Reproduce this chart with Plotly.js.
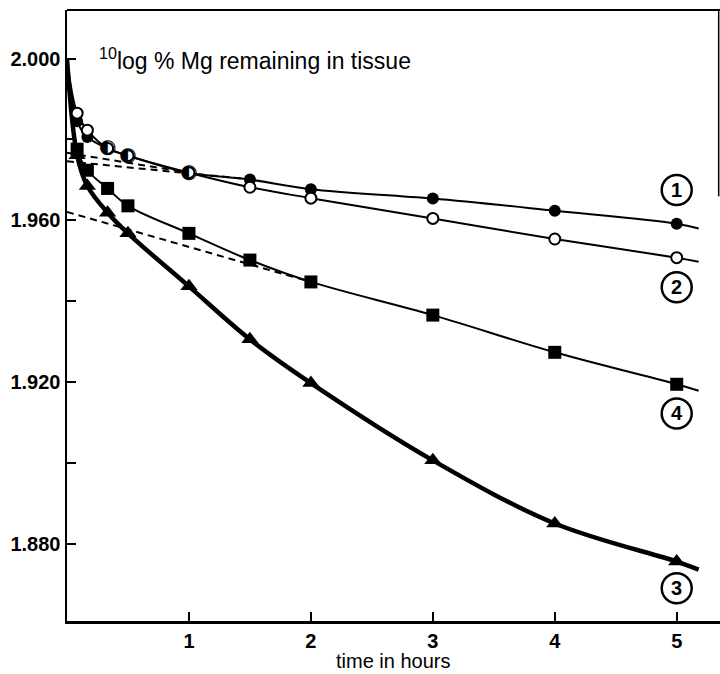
<!DOCTYPE html>
<html>
<head>
<meta charset="utf-8">
<script src="https://cdn.plot.ly/plotly-3.0.1.min.js"></script>
<style>html,body{margin:0;padding:0;background:#fff;}#chart{width:720px;height:674px;}</style>
</head>
<body>
<div id="chart"></div>
<script>
// time points (hours)
const times = [0.083, 0.167, 0.333, 0.5, 1, 1.5, 2, 3, 4, 5];
// 10log % Mg remaining in tissue
const series1 = [1.9845, 1.9806, 1.9778, 1.9760, 1.9718, 1.9701, 1.9677, 1.9654, 1.9624, 1.9592];
const series2 = [1.9865, 1.9823, 1.9778, 1.9760, 1.9718, 1.9682, 1.9655, 1.9605, 1.9554, 1.9508];
const series3 = [1.9761, 1.9685, 1.9619, 1.9568, 1.9437, 1.9306, 1.9198, 1.9007, 1.8851, 1.8757];
const series4 = [1.9776, 1.9724, 1.9679, 1.9636, 1.9568, 1.9502, 1.9448, 1.9366, 1.9274, 1.9195];
// curves start at 100 % (log = 2.000) and run a little past 5 h
const startTime = 0, startValue = 2.000;
const endTime = 5.18;
const curveEnds = {s1: 1.9580, s2: 1.9498, s3: 1.8737, s4: 1.9179};
// points where curves 1 and 2 coincide (half-filled circles)
const sharedTimes = [0.333, 0.5, 1];
const sharedValues = [1.9778, 1.9760, 1.9718];
// dashed extrapolations of the slow components
const dash1X = [0, 1.45], dash1Y = [1.9746, 1.9703];
const dash2X = [0, 1.0], dash2Y = [1.9767, 1.9718];
const dash4X = [0, 2.0], dash4Y = [1.9621, 1.9448];
// ticks
const xTickVals = [1, 2, 3, 4, 5];
const xTickLabels = ['1', '2', '3', '4', '5'];
const yTickVals = [1.88, 1.92, 1.96, 2.00];
const yTickLabels = ['1.880', '1.920', '1.960', '2.000'];
const yMinorTickVals = [1.90, 1.94, 1.98];
const xTitle = 'time in hours';
const yTitle = '<sup>10</sup>log % Mg remaining in tissue';
const curveLabels = ['1', '2', '3', '4'];
const labelValues = [1.9675, 1.9435, 1.8691, 1.9123];
const labelTime = 5.0;

function curve(vals, end, width) {
  return {
    x: [startTime].concat(times, [endTime]),
    y: [startValue].concat(vals, [end]),
    mode: 'lines', line: {color: '#000', width: width, shape: 'spline', smoothing: 1},
    hoverinfo: 'skip'
  };
}
function dashed(x, y) {
  return {x: x, y: y, mode: 'lines', line: {color: '#000', width: 2, dash: '7px,5px'}, hoverinfo: 'skip'};
}
const traces = [
  curve(series1, curveEnds.s1, 2),
  curve(series2, curveEnds.s2, 2),
  curve(series4, curveEnds.s4, 2),
  curve(series3, curveEnds.s3, 4.5),
  dashed(dash1X, dash1Y), dashed(dash2X, dash2Y), dashed(dash4X, dash4Y),
  {x: times, y: series1, mode: 'markers', marker: {symbol: 'circle', size: 12, color: '#000'}},
  {x: times, y: series2, mode: 'markers', marker: {symbol: 'circle', size: 11, color: '#fff', line: {color: '#000', width: 2}}},
  {x: times, y: series4, mode: 'markers', marker: {symbol: 'square', size: 13, color: '#000'}},
  {x: times, y: series3, mode: 'markers', marker: {symbol: 'triangle-up', size: 15, color: '#000'}},
  {x: sharedTimes, y: sharedValues, mode: 'text', text: sharedTimes.map(() => '\u25D0'),
   textposition: 'middle center', textfont: {family: 'DejaVu Sans', size: 20, color: '#000'}}
];

const shapes = [
  {type: 'line', xref: 'paper', yref: 'paper', x0: 0, x1: 1, y0: 1, y1: 1, line: {color: '#000', width: 2}},
  {type: 'line', xref: 'paper', yref: 'paper', x0: 0.998, x1: 0.998, y0: 1, y1: 0.695, line: {color: '#000', width: 1.5}}
];
const annotations = [
  {xref: 'x', yref: 'y', x: 0.25, y: 2.000, xanchor: 'left', yanchor: 'middle', showarrow: false,
   text: yTitle, font: {family: 'Liberation Sans', size: 23, color: '#000'}},
  {xref: 'paper', yref: 'paper', x: 0.5, y: 0, xanchor: 'center', yanchor: 'middle', yshift: -40,
   showarrow: false, text: xTitle, font: {family: 'Liberation Sans', size: 20, color: '#000'}}
];
curveLabels.forEach((lab, i) => {
  shapes.push({type: 'circle', xref: 'x', yref: 'y', xsizemode: 'pixel', ysizemode: 'pixel',
    xanchor: labelTime, yanchor: labelValues[i], x0: -15, x1: 15, y0: -15, y1: 15,
    line: {color: '#000', width: 2.5}, fillcolor: 'rgba(0,0,0,0)'});
  annotations.push({xref: 'x', yref: 'y', x: labelTime, y: labelValues[i], showarrow: false,
    text: lab, font: {family: 'Liberation Sans', size: 20, color: '#000', weight: 'bold'},
    xanchor: 'center', yanchor: 'middle'});
});

const tickFont = {family: 'Liberation Sans', size: 20, color: '#000', weight: 'bold'};
const layout = {
  width: 720, height: 674,
  margin: {l: 67, r: 0, t: 10, b: 53},
  paper_bgcolor: '#fff', plot_bgcolor: '#fff',
  showlegend: false,
  xaxis: {
    range: [0, 5.355], tickvals: xTickVals, ticktext: xTickLabels,
    ticks: 'inside', ticklen: 9, tickwidth: 2, tickcolor: '#000',
    showline: true, linewidth: 2.5, linecolor: '#000', showgrid: false, zeroline: false,
    tickfont: tickFont
  },
  yaxis: {
    range: [1.861, 2.012], tickvals: yTickVals, ticktext: yTickLabels,
    ticks: 'inside', ticklen: 9, tickwidth: 2, tickcolor: '#000',
    minor: {tickvals: yMinorTickVals, ticks: 'inside', ticklen: 9, tickwidth: 2, tickcolor: '#000', showgrid: false},
    showline: true, linewidth: 2.5, linecolor: '#000', showgrid: false, zeroline: false,
    tickfont: tickFont
  },
  shapes: shapes,
  annotations: annotations
};
Plotly.newPlot('chart', traces, layout, {displayModeBar: false, staticPlot: true});
</script>
</body>
</html>
